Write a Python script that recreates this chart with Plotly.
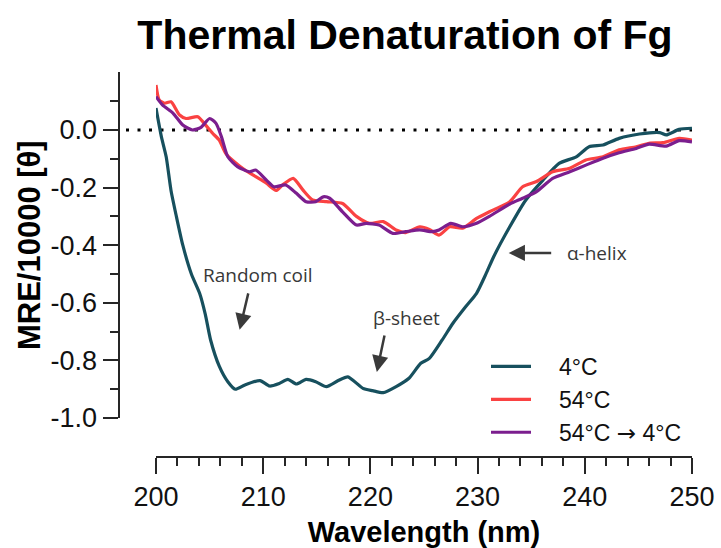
import plotly.graph_objects as go

# ---- data ----
wl_4C = [200.0, 200.5, 200.95, 201.4, 201.9, 202.5, 203.3, 204.1, 204.6, 205.1, 205.9, 206.7, 207.4,
         208.3, 209.7, 210.6, 211.5, 212.3, 213.1, 214.0, 214.9, 215.9, 217.0, 217.9, 219.3, 220.2,
         221.2, 222.4, 223.6, 224.7, 225.5, 226.7, 227.7, 228.9, 229.9, 230.8, 231.5, 233.0, 234.5,
         236.1, 237.6, 239.2, 240.4, 241.7, 243.2, 245.1, 247.0, 247.6, 248.8, 250.0]
mre_4C = [0.076, -0.023, -0.093, -0.21, -0.30, -0.40, -0.50, -0.57, -0.64, -0.73, -0.82, -0.874, -0.90,
          -0.885, -0.87, -0.889, -0.88, -0.866, -0.882, -0.866, -0.874, -0.891, -0.87, -0.857, -0.897, -0.905,
          -0.912, -0.891, -0.862, -0.81, -0.793, -0.729, -0.671, -0.613, -0.567, -0.498, -0.44, -0.336, -0.243,
          -0.174, -0.116, -0.093, -0.058, -0.052, -0.029, -0.014, -0.009, -0.017, 0.002, 0.006]

wl_54C = [200.0, 200.3, 200.8, 201.4, 202.2, 202.8, 203.9, 204.5, 205.3, 205.9, 206.5, 207.3, 208.3,
          209.3, 210.3, 211.2, 211.8, 212.8, 213.7, 214.6, 215.9, 217.4, 218.7, 219.9, 221.2, 222.4,
          223.3, 224.6, 225.5, 226.4, 227.4, 228.6, 229.9, 231.1, 233.0, 234.2, 235.5, 237.0, 238.6,
          240.1, 241.7, 243.2, 244.8, 246.0, 247.3, 248.8, 250.0]
mre_54C = [0.156, 0.104, 0.093, 0.098, 0.052, 0.040, 0.046, 0.023, -0.012, -0.035, -0.081, -0.110, -0.139,
           -0.162, -0.185, -0.210, -0.191, -0.168, -0.208, -0.243, -0.249, -0.255, -0.300, -0.324, -0.318, -0.347,
           -0.356, -0.336, -0.345, -0.365, -0.336, -0.341, -0.307, -0.284, -0.249, -0.197, -0.179, -0.145, -0.133,
           -0.104, -0.093, -0.069, -0.058, -0.046, -0.044, -0.029, -0.035]

wl_54to4C = [200.0, 200.6, 201.6, 202.5, 203.4, 204.2, 205.0, 205.6, 206.1, 206.7, 207.6, 208.7, 209.3,
             210.3, 211.0, 212.1, 213.1, 214.0, 214.9, 215.6, 216.2, 217.4, 218.7, 219.6, 220.8, 222.1,
             223.3, 224.6, 225.8, 226.4, 227.5, 228.6, 229.9, 231.1, 233.0, 234.2, 235.5, 237.0, 238.6,
             240.1, 241.7, 243.2, 244.8, 246.0, 247.6, 248.8, 250.0]
mre_54to4C = [0.116, 0.087, 0.058, 0.017, 0.000, 0.009, 0.040, 0.023, -0.023, -0.093, -0.127, -0.145, -0.139,
              -0.174, -0.197, -0.191, -0.220, -0.249, -0.249, -0.232, -0.237, -0.284, -0.330, -0.324, -0.330, -0.359,
              -0.353, -0.347, -0.353, -0.347, -0.324, -0.336, -0.324, -0.300, -0.257, -0.237, -0.214, -0.168, -0.145,
              -0.122, -0.098, -0.079, -0.064, -0.049, -0.056, -0.037, -0.041]

series_names = ["4°C", "54°C", "54°C → 4°C"]
series_colors = ["#17505e", "#fa4242", "#7b1e8e"]

x_tick_vals = [200, 210, 220, 230, 240, 250]
y_tick_vals = [-1.0, -0.8, -0.6, -0.4, -0.2, 0.0]
y_tick_text = ["-1.0", "-0.8", "-0.6", "-0.4", "-0.2", "0.0"]
y_minor_vals = [-0.9, -0.7, -0.5, -0.3, -0.1, 0.1]

annotations_text = [
    ("Random coil", 209.5, -0.505, 207.8, -0.694, 9, -38),
    ("β-sheet", 223.4, -0.654, 220.6, -0.840, 8, -38),
    ("α-helix", 241.1, -0.427, 232.9, -0.427, 44, 0),
]

# ---- figure ----
W, H = 721, 548
fig = go.Figure()
for xs, ys, name, col in zip([wl_4C, wl_54C, wl_54to4C], [mre_4C, mre_54C, mre_54to4C],
                             series_names, series_colors):
    shown = "\u2002\u2002" + name.replace("→", "<span style='font-family:DejaVu Sans'>→</span>")
    fig.add_trace(go.Scatter(x=xs, y=ys, mode="lines", name=shown,
                             line=dict(color=col, width=3.2, shape="spline", smoothing=0.6)))

axis_col = "#262626"
font_fam = "Liberation Sans, Arial, sans-serif"

fig.add_shape(type="line", xref="paper", yref="y", x0=126 / W, x1=692 / W, y0=0, y1=0,
              line=dict(color="black", width=3, dash="3px,8.5px"), layer="below")

anns = []
for txt, tx, ty, hx, hy, ax, ay in annotations_text:
    anns.append(dict(x=tx, y=ty, xref="x", yref="y", text=txt, showarrow=False,
                     font=dict(family="Open Sans, sans-serif", size=19, color="#383838")))
    anns.append(dict(x=hx, y=hy, xref="x", yref="y", text="", showarrow=True, ax=ax, ay=ay,
                     arrowhead=2, arrowsize=1.3, arrowwidth=2.5, arrowcolor="#3a3a3a"))

fig.update_layout(
    width=W, height=H,
    margin=dict(l=0, r=0, t=0, b=0),
    paper_bgcolor="white", plot_bgcolor="white",
    font=dict(family=font_fam, color="#111111"),
    title=dict(text="<b>Thermal Denaturation of Fg</b>", x=405 / W, xanchor="center",
               y=1 - 35 / H, yanchor="middle", yref="container",
               font=dict(family=font_fam, size=41, color="black")),
    xaxis=dict(domain=[156 / W, 692 / W], range=[200, 250], anchor="free", position=1 - 457 / H,
               showgrid=False, zeroline=False, showline=True, linecolor=axis_col, linewidth=2,
               ticks="outside", ticklen=16, tickwidth=2, tickcolor=axis_col,
               tickvals=x_tick_vals, tickfont=dict(size=27, color="#111111"),
               minor=dict(dtick=2, ticks="outside", ticklen=8, tickwidth=2, tickcolor=axis_col, showgrid=False),
               title=dict(text="<b>Wavelength (nm)</b>", font=dict(size=29, color="black"), standoff=17),
               automargin=False),
    yaxis=dict(domain=[1 - 418 / H, 1 - 72.4 / H], range=[-1.0, 0.2], anchor="free", position=118.5 / W,
               showgrid=False, zeroline=False, showline=True, linecolor=axis_col, linewidth=2,
               ticks="outside", ticklen=15, tickwidth=2, tickcolor=axis_col,
               tickvals=y_tick_vals, ticktext=y_tick_text, tickfont=dict(size=27, color="#111111"),
               minor=dict(tickvals=y_minor_vals, ticks="outside", ticklen=8, tickwidth=2,
                          tickcolor=axis_col, showgrid=False),
               title=dict(text="<b>MRE/10000 [θ]</b>", font=dict(size=31, color="black"), standoff=0),
               automargin=False),
    legend=dict(x=486 / W, y=1 - 345 / H, xanchor="left", yanchor="top",
                font=dict(size=23, color="#111111"), bgcolor="rgba(0,0,0,0)",
                itemwidth=40, tracegroupgap=0),
    annotations=anns,
    showlegend=True,
)

fig.write_html("out.html")
